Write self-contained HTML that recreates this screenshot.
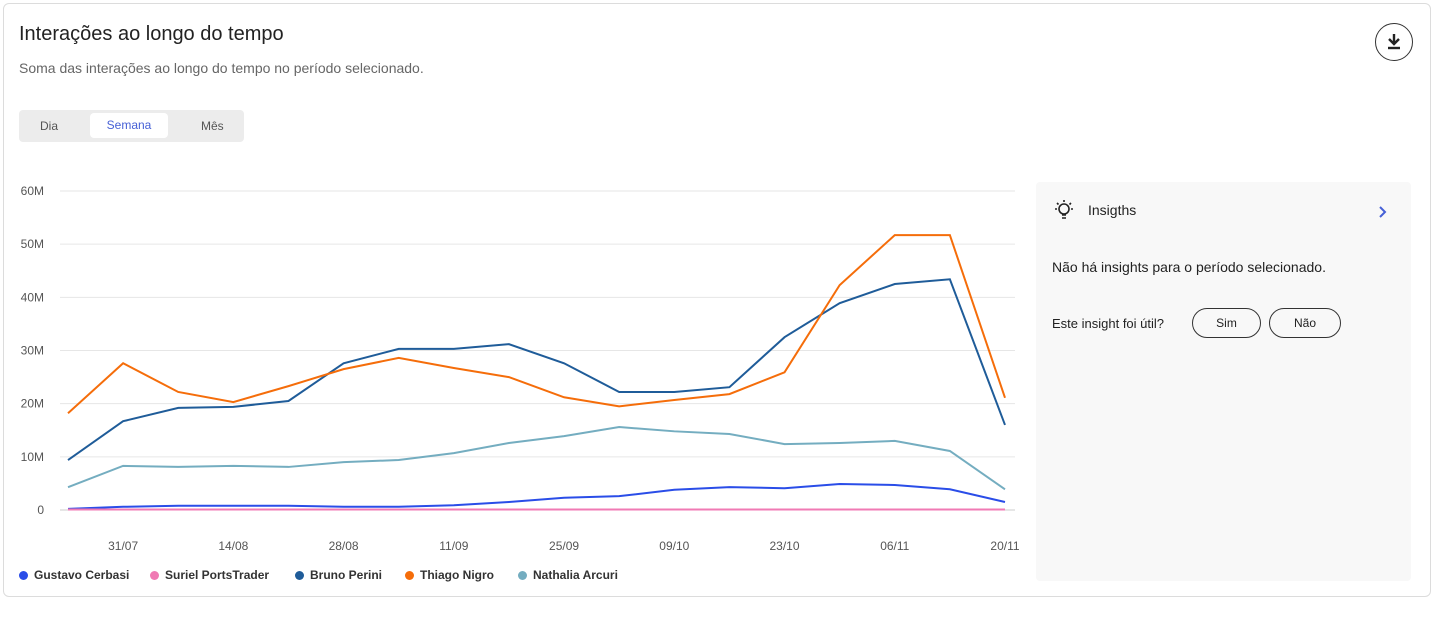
<!DOCTYPE html>
<html><head><meta charset="utf-8">
<style>
body{margin:0;width:1435px;height:626px;background:#fff;font-family:"Liberation Sans",sans-serif;overflow:hidden}
.card{position:absolute;left:3px;top:3px;width:1428px;height:594px;border:1px solid #dcdcdc;border-radius:6px;box-sizing:border-box}
h1{position:absolute;left:19px;top:23px;margin:0;font-size:20px;font-weight:normal;color:#222}
.sub{position:absolute;left:19px;top:60px;font-size:14px;color:#666}
.tog{position:absolute;left:19px;top:110px;width:225px;height:32px;background:#ececec;border-radius:4px}
.tog span{position:absolute;top:9px;font-size:12px;color:#555}
.tog .act{left:71px;top:3px;width:78px;height:25px;background:#fff;border-radius:4px;color:#4660d6;text-align:center;line-height:25px}
.dl{position:absolute;left:1375px;top:23px;width:38px;height:38px;border:1px solid #333;border-radius:50%;box-sizing:border-box}
.ins{position:absolute;left:1036px;top:182px;width:375px;height:399px;background:#f8f8f8;border-radius:4px}
.btn{position:absolute;top:126px;height:30px;border:1px solid #333;border-radius:16px;box-sizing:border-box;font-size:12px;text-align:center;line-height:28px;color:#222}
.leg{position:absolute;top:568px;font-size:12px;font-weight:bold;color:#333;display:flex;align-items:center}
.leg i{width:9px;height:9px;border-radius:50%;margin-right:6px;display:inline-block}
</style></head><body>
<div class="card"></div>
<h1>Interações ao longo do tempo</h1>
<div class="sub">Soma das interações ao longo do tempo no período selecionado.</div>
<div class="tog">
<span style="left:21px">Dia</span>
<span class="act">Semana</span>
<span style="left:182px">Mês</span>
</div>
<div class="dl">
<svg width="36" height="36" viewBox="0 0 36 36"><path d="M18 10v10M13 15l5 5 5-5" stroke="#222" stroke-width="2.4" fill="none"/><path d="M12 24h12" stroke="#222" stroke-width="2.4"/></svg></div>
<svg id="chart" width="1030" height="560" style="position:absolute;left:0;top:0"></svg>
<div class="ins">
<svg style="position:absolute;left:16px;top:16px" width="24" height="24" viewBox="0 0 24 24"><circle cx="12" cy="11" r="5" fill="none" stroke="#222" stroke-width="1.6"/><path d="M10 17h4M10 20h4M12 2v2M3 11h2M19 11h2M5 5l1.5 1.5M19 5l-1.5 1.5" stroke="#222" stroke-width="1.6"/></svg>
<div style="position:absolute;left:52px;top:20px;font-size:14px;color:#222">Insigths</div>
<svg style="position:absolute;left:342px;top:23px" width="10" height="14" viewBox="0 0 10 14"><path d="M2 2l5 5-5 5" stroke="#4660d6" stroke-width="2" fill="none"/></svg>
<div style="position:absolute;left:16px;top:77px;font-size:14px;color:#222">Não há insights para o período selecionado.</div>
<div style="position:absolute;left:16px;top:134px;font-size:13px;color:#222">Este insight foi útil?</div>
<div class="btn" style="left:156px;width:69px">Sim</div>
<div class="btn" style="left:233px;width:72px">Não</div>
</div>
<div class="leg" style="left:19px"><i style="background:#2a4de8"></i>Gustavo Cerbasi</div>
<div class="leg" style="left:150px"><i style="background:#f07ab4"></i>Suriel PortsTrader</div>
<div class="leg" style="left:295px"><i style="background:#1f5c99"></i>Bruno Perini</div>
<div class="leg" style="left:405px"><i style="background:#f56d0a"></i>Thiago Nigro</div>
<div class="leg" style="left:518px"><i style="background:#74adc0"></i>Nathalia Arcuri</div>
<script>
const categories=["24/07","31/07","07/08","14/08","21/08","28/08","04/09","11/09","18/09","25/09","02/10","09/10","16/10","23/10","30/10","06/11","13/11","20/11"];
const gustavo=[0.2,0.6,0.8,0.8,0.8,0.6,0.6,0.9,1.5,2.3,2.6,3.8,4.3,4.1,4.9,4.7,3.9,1.5];
const suriel=[0.1,0.1,0.1,0.1,0.1,0.1,0.1,0.1,0.1,0.1,0.1,0.1,0.1,0.1,0.1,0.1,0.1,0.1];
const bruno=[9.4,16.7,19.2,19.4,20.5,27.6,30.3,30.3,31.2,27.6,22.2,22.2,23.1,32.5,38.9,42.5,43.4,16.0];
const thiago=[18.2,27.6,22.2,20.3,23.3,26.5,28.6,26.7,25.0,21.2,19.5,20.7,21.8,25.9,42.3,51.7,51.7,21.1];
const nathalia=[4.3,8.3,8.1,8.3,8.1,9.0,9.4,10.7,12.6,13.9,15.6,14.8,14.3,12.4,12.6,13.0,11.1,3.9];
const yTicks=[0,10,20,30,40,50,60];
const yLabels=["0","10M","20M","30M","40M","50M","60M"];
const svg=document.getElementById('chart');const NS="http://www.w3.org/2000/svg";
const x0=68,x1=1005,y0=510,y1=191,ymax=60;
const X=i=>x0+i*(x1-x0)/(categories.length-1);
const Y=v=>y0-v/ymax*(y0-y1);
function mk(t,a){const e=document.createElementNS(NS,t);for(const k in a)e.setAttribute(k,a[k]);svg.appendChild(e);return e;}
yTicks.forEach((t,i)=>{
const l=mk('line',{x1:60,x2:1015,y1:Y(t),y2:Y(t),stroke:i==0?'#ccc':'#e6e6e6'});


const tx=mk('text',{x:44,y:Y(t)+4,'text-anchor':'end','font-size':12,fill:'#555','font-family':'Liberation Sans'});tx.textContent=yLabels[i];


});
categories.forEach((c,i)=>{if(i%2==1){
const tx=mk('text',{x:X(i),y:550,'text-anchor':'middle','font-size':12,fill:'#555','font-family':'Liberation Sans'});tx.textContent=c;


}});
[[nathalia,'#74adc0','nathalia'],[gustavo,'#2a4de8','gustavo'],[suriel,'#f07ab4','suriel'],[bruno,'#1f5c99','bruno'],[thiago,'#f56d0a','thiago']].forEach(([d,c,n])=>{
const p=mk('polyline',{points:d.map((v,i)=>X(i)+','+Y(v)).join(' '),fill:'none',stroke:c,'stroke-width':2});


});
</script>
</body></html>
